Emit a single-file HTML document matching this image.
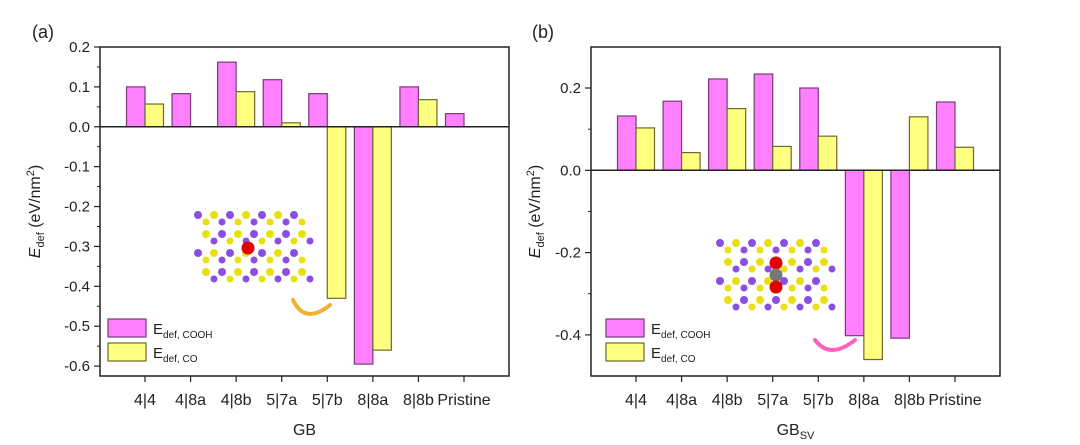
<!DOCTYPE html>
<html><head><meta charset="utf-8"><style>
body{margin:0;background:#fff;}
svg text{font-family:"Liberation Sans",Arial,sans-serif;fill:#222;}
</style></head><body>
<svg id="c" width="1080" height="440" xmlns="http://www.w3.org/2000/svg"></svg>
<script>
const categories=["4|4","4|8a","4|8b","5|7a","5|7b","8|8a","8|8b","Pristine"];
const cooA=[0.100,0.083,0.162,0.118,0.083,-0.595,0.100,0.033];
const coA=[0.057,null,0.088,0.010,-0.430,-0.560,0.068,null];
const cooB=[0.132,0.168,0.222,0.234,0.200,-0.402,-0.408,0.166];
const coB=[0.103,0.043,0.150,0.058,0.083,-0.460,0.130,0.056];
const ticksA=[0.2,0.1,0.0,-0.1,-0.2,-0.3,-0.4,-0.5,-0.6];
const ticksB=[0.2,0.0,-0.2,-0.4];
const NS="http://www.w3.org/2000/svg";
const svg=document.getElementById('c');
function mk(t,a,p){const e=document.createElementNS(NS,t);for(const k in a)e.setAttribute(k,a[k]);(p||svg).appendChild(e);return e;}
function panel(o){
  const g=mk('g',{});
  
  
  const y=v=>o.y0+(o.vmax-v)/(o.vmax-o.vmin)*(o.y1-o.y0);
  const m=45;
  const step=(o.x1-o.x0-2*m)/(categories.length-1);
  const cx=i=>o.x0+m+step*i;
  const bw=18.5;
  categories.forEach((c,i)=>{
    [[o.coo[i],'#ff80ff','#7a3a7a',-bw],[o.co[i],'#ffff80','#6a6a30',0]].forEach(([v,f,s,off],k)=>{
      if(v===null)return;
      const r=mk('rect',{x:cx(i)+off,y:Math.min(y(v),y(0)),width:bw,height:Math.abs(y(v)-y(0)),fill:f,stroke:s,'stroke-width':1.2},g);
      
      
    });
    mk('line',{x1:cx(i),x2:cx(i),y1:o.y1,y2:o.y1+6,stroke:'#222','stroke-width':1.2},g);
    const l=mk('text',{x:cx(i),y:o.y1+29,'text-anchor':'middle','font-size':16},g);
    l.textContent=c;
    
    
  });
  mk('line',{x1:o.x0,x2:o.x1,y1:y(0),y2:y(0),stroke:'#222','stroke-width':1.5},g);
  const fr=mk('rect',{x:o.x0,y:o.y0,width:o.x1-o.x0,height:o.y1-o.y0,fill:'none',stroke:'#222','stroke-width':1.5},g);
  
  
  o.ticks.forEach(v=>{
    mk('line',{x1:o.x0-6,x2:o.x0,y1:y(v),y2:y(v),stroke:'#222','stroke-width':1.2},g);
    const mm=v-o.minor; if(mm>o.vmin) mk('line',{x1:o.x0-3,x2:o.x0,y1:y(mm),y2:y(mm),stroke:'#222','stroke-width':1},g);
    const t=mk('text',{x:o.x0-10,y:y(v)+5,'text-anchor':'end','font-size':15},g);
    t.textContent=v.toFixed(1);
    
    
  });
  const xt=mk('text',{x:(o.x0+o.x1)/2,y:o.y1+59,'text-anchor':'middle','font-size':16},g);
  xt.innerHTML=o.xlabel;
  
  
  const yt=mk('text',{transform:`translate(${o.ytx},${(o.y0+o.y1)/2}) rotate(-90)`,'text-anchor':'middle','font-size':16},g);
  yt.innerHTML='<tspan font-style="italic">E</tspan><tspan font-size="11" dy="4">def</tspan><tspan dy="-4"> (eV/nm</tspan><tspan font-size="11" dy="-6">2</tspan><tspan dy="6">)</tspan>';
  
  
  const pl=mk('text',{x:o.ytx-8,y:38,'font-size':18},g);
  pl.textContent=o.plabel;
  
  
  [['#ff80ff','#7a3a7a','COOH',0],['#ffff80','#6a6a30','CO',24]].forEach(([f,s,n,dy])=>{
    const lg=mk('g',{},g);
    
    
    mk('rect',{x:o.lx,y:o.ly+dy,width:38,height:18,fill:f,stroke:s,'stroke-width':1.2},lg);
    const t=mk('text',{x:o.lx+45,y:o.ly+dy+15,'font-size':15},lg);
    t.innerHTML='E<tspan font-size="10" dy="4">def, '+n+'</tspan>';
  });
  const ig=mk('g',{},g);
  
  
  for(let r=0;r<4;r++)for(let c=0;c<7;c++){
    const px=o.mx+c*16+(r%2)*8,py=o.my+r*19;
    mk('circle',{cx:px,cy:py,r:4,fill:(c+r)%2?'#e8e010':'#8a4fe0'},ig);
    mk('circle',{cx:px+8,cy:py+7,r:3.5,fill:(c+r)%2?'#8a4fe0':'#e8e010'},ig);
  }
  o.atoms.forEach(([dx,dy,f])=>mk('circle',{cx:o.mx+dx,cy:o.my+dy,r:6.5,fill:f},ig));
  const ar=mk('path',{d:o.arrow,fill:'none',stroke:o.ac,'stroke-width':4,'stroke-linecap':'round'},g);
  
  
}
panel({name:'panel-a',x0:100,x1:509,y0:47,y1:376,vmax:0.2,vmin:-0.6248,ticks:ticksA,minor:0.05,coo:cooA,co:coA,xlabel:'GB',ytx:40,plabel:'(a)',lx:108,ly:319,mx:198,my:215,atoms:[[50,33,'#e00000']],arrow:'M293,300 Q305,325 330,305',ac:'#f0b030'});
panel({name:'panel-b',x0:591,x1:1000,y0:47,y1:376,vmax:0.2997,vmin:-0.5,ticks:ticksB,minor:0.1,coo:cooB,co:coB,xlabel:'GB<tspan font-size="11" dy="4">SV</tspan>',ytx:540,plabel:'(b)',lx:606,ly:319,mx:720,my:243,atoms:[[56,20,'#e00000'],[56,32,'#777'],[56,44,'#e00000']],arrow:'M815,340 Q830,360 855,340',ac:'#ff60c0'});
</script>
</body></html>
